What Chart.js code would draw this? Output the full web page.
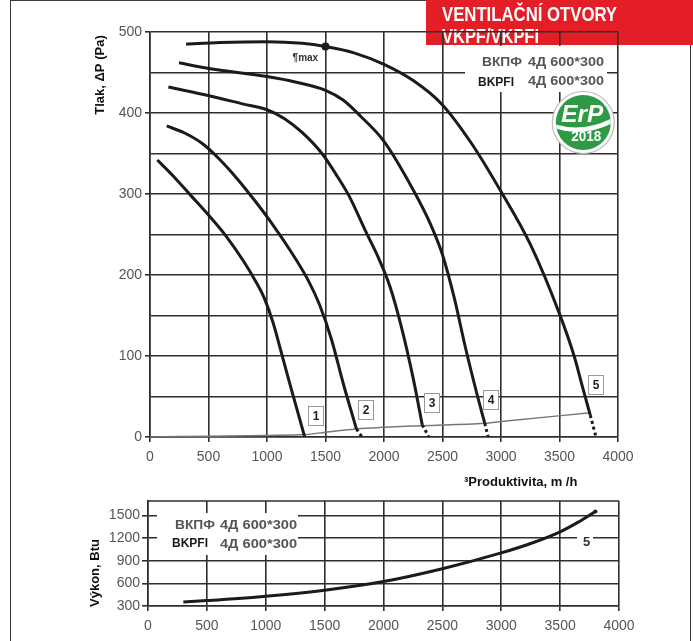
<!DOCTYPE html>
<html>
<head>
<meta charset="utf-8">
<script src="https://cdn.jsdelivr.net/npm/chart.js@4.4.1/dist/chart.umd.min.js"></script>
<style>
  html, body { margin: 0; padding: 0; background: #fff; }
  body { width: 693px; height: 641px; position: relative; overflow: hidden; }
  #frame { position: absolute; left: 10px; top: 0; width: 681px; height: 700px; border: 1px solid #3a3a3a; box-sizing: border-box; }
  canvas { position: absolute; left: 0; }
  #top { top: 0; }
  #bottom { top: 480px; }
</style>
</head>
<body>
<div id="frame"></div>
<canvas id="top" width="693" height="500"></canvas>
<canvas id="bottom" width="693" height="161"></canvas>
<script>
// flow m3/h vs pressure Pa
const curve1 = [[63,342],[200,322],[350,298],[500,274],[650,248],[800,217],[900,193],[975,172],[1050,142],[1125,103],[1200,63],[1270,27],[1322,0]];
const curve2 = [[143,384],[300,375],[450,362],[600,342],[750,318],[900,291],[1050,262],[1200,230],[1350,194],[1450,163],[1550,121],[1650,67],[1764,10]];
const curve2Tail = [[1764,10],[1813,0]];
const curve3 = [[157,432],[514,421],[800,411],[1000,404],[1150,393],[1300,376],[1470,350],[1600,322],[1700,298],[1850,252],[1950,222],[2050,186],[2150,135],[2250,72],[2327,15]];
const curve3Tail = [[2327,15],[2384,0]];
const curve4 = [[248,462],[500,455],[1000,445],[1250,438],[1500,428],[1650,416],[1800,396],[2000,365],[2250,305],[2400,262],[2500,225],[2600,172],[2700,108],[2800,50],[2861,17]];
const curve4Tail = [[2861,17],[2890,0]];
const curve5 = [[308,485],[600,487],[1000,488],[1300,486],[1500,482],[1750,474],[2000,460],[2250,440],[2500,410],[2750,362],[3000,303],[3250,238],[3500,152],[3625,100],[3700,60],[3763,27]];
const curve5Tail = [[3763,27],[3812,0]];
const systemLine = [[0,0],[500,1],[1000,2],[1330,3],[1500,6],[1764,10],[2000,12],[2330,14],[2860,17],[3000,19],[3763,30]];
const maxPoint = [[1500,482]];

// flow vs power
const powerCurve = [[300,353],[500,372],[1000,430],[1500,510],[2000,625],[2500,795],[3000,1005],[3250,1130],[3500,1285],[3650,1410],[3800,1555]];
const powerTicks = [300, 600, 900, 1200, 1500];

const FONT = '"Liberation Sans", Arial, sans-serif';
const GRID = '#2e2e2e';

const pts = a => a.map(([x, y]) => ({ x, y }));

function line(data, extra) {
  return Object.assign({
    data: pts(data), borderColor: '#1b1b1b', borderWidth: 3, pointRadius: 0,
    fill: false, cubicInterpolationMode: 'monotone'
  }, extra);
}

function fitText(c, text, x, y, w) {
  const m = c.measureText(text).width;
  c.save();
  c.translate(x, y);
  c.scale(w / m, 1);
  c.textAlign = 'left';
  c.fillText(text, 0, 0);
  c.restore();
}

function vTitle(c, text, x, y) {
  c.save();
  c.translate(x, y);
  c.rotate(-Math.PI / 2);
  c.font = 'bold 13px ' + FONT;
  c.fillStyle = '#111';
  c.textAlign = 'center';
  c.textBaseline = 'middle';
  c.fillText(text, 0, 0);
  c.restore();
}

function xScale(fitH) {
  return {
    type: 'linear', min: 0, max: 4000,
    ticks: {
      stepSize: 500, color: '#555', font: { size: 14, family: FONT }, padding: 7, maxRotation: 0, autoSkip: false,
      callback: v => String(v)
    },
    grid: { color: GRID, lineWidth: 1.6, tickLength: 5, tickColor: GRID },
    border: { color: GRID, width: 1.6 },
    afterFit: s => { s.height = fitH; }
  };
}

const topDeco = {
  id: 'topDeco',
  beforeDraw(chart) {
    const c = chart.ctx;
    c.save();
    c.fillStyle = '#e41e26';
    c.fillRect(426, 0, 267, 45);
    c.fillStyle = '#fff';
    c.font = 'bold 21px ' + FONT;
    fitText(c, 'VENTILAČNÍ OTVORY', 442, 20.5, 175);
    fitText(c, 'VKPF/VKPFI', 442, 43, 97);
    c.restore();
  },
  beforeDatasetsDraw(chart) {
    const c = chart.ctx;
    c.save();
    // model text box
    c.fillStyle = '#fff';
    c.fillRect(465, 46, 142, 46);
    c.font = 'bold 13px ' + FONT;
    c.fillStyle = '#555';
    fitText(c, 'ВКПФ', 482, 66, 40);
    fitText(c, '4Д 600*300', 528, 66, 76);
    fitText(c, '4Д 600*300', 528, 85, 76);
    c.fillStyle = '#1a1a1a';
    fitText(c, 'BKPFI', 478, 86, 36);

    // ErP badge
    const cx = 583.3, cy = 122.5;
    c.beginPath(); c.arc(cx, cy, 31, 0, Math.PI * 2);
    c.fillStyle = '#fff'; c.fill();
    c.strokeStyle = '#bbb'; c.lineWidth = 1.2; c.stroke();
    c.beginPath(); c.arc(cx, cy, 27.5, 0, Math.PI * 2);
    c.fillStyle = '#2f9a45'; c.fill();
    c.save();
    c.beginPath(); c.arc(cx, cy, 27.5, 0, Math.PI * 2); c.clip();
    c.beginPath();
    c.moveTo(cx - 28, cy + 2);
    c.quadraticCurveTo(cx, cy + 10, cx + 28, cy - 4);
    c.lineTo(cx + 28, cy + 1);
    c.quadraticCurveTo(cx, cy + 15, cx - 28, cy + 6);
    c.closePath();
    c.fillStyle = '#fff'; c.fill();
    c.restore();
    c.fillStyle = '#fff';
    c.font = 'italic bold 24px ' + FONT;
    fitText(c, 'ErP', cx - 22, cy - 1, 42);
    c.font = 'bold 15px ' + FONT;
    fitText(c, '2018', cx - 12, cy + 18.5, 30);
    c.restore();
  },
  afterDatasetsDraw(chart) {
    const c = chart.ctx, x = chart.scales.x, y = chart.scales.y;
    c.save();
    const tags = [['1', 1422, 26], ['2', 1846, 33], ['3', 2412, 42], ['4', 2915, 46], ['5', 3811, 64]];
    tags.forEach(([t, vx, vy]) => {
      const px = Math.round(x.getPixelForValue(vx)), py = Math.round(y.getPixelForValue(vy));
      c.fillStyle = '#fff';
      c.fillRect(px - 8, py - 10, 16, 20);
      c.strokeStyle = '#9a9a9a'; c.lineWidth = 1;
      c.strokeRect(px - 7.5, py - 9.5, 15, 19);
      c.fillStyle = '#222';
      c.font = 'bold 12px ' + FONT;
      c.textAlign = 'center'; c.textBaseline = 'middle';
      c.fillText(t, px, py + 1);
    });
    c.font = 'bold 10px ' + FONT;
    c.fillStyle = '#333';
    c.textAlign = 'center'; c.textBaseline = 'middle';
    c.fillText('¶max', x.getPixelForValue(1328), y.getPixelForValue(468));
    c.restore();
  },
  afterDraw(chart) {
    const c = chart.ctx;
    vTitle(c, 'Tlak, ΔP (Pa)', 100, 75);
    c.save();
    c.font = 'bold 13px ' + FONT;
    c.fillStyle = '#111';
    c.textAlign = 'left'; c.textBaseline = 'middle';
    c.fillText('³Produktivita, m /h', 464, 482);
    c.restore();
  }
};

const bottomDeco = {
  id: 'bottomDeco',
  beforeDatasetsDraw(chart) {
    const c = chart.ctx;
    c.save();
    c.fillStyle = '#fff';
    c.fillRect(157, 33, 141, 42);
    c.fillRect(577, 50, 16, 16);
    c.font = 'bold 12px ' + FONT;
    c.fillStyle = '#555';
    fitText(c, 'ВКПФ', 175, 49, 40);
    fitText(c, '4Д 600*300', 220, 49, 77);
    fitText(c, '4Д 600*300', 220, 68, 77);
    c.fillStyle = '#1a1a1a';
    fitText(c, 'BKPFI', 172, 67.3, 36);
    c.fillStyle = '#333';
    c.font = 'bold 13px ' + FONT;
    c.textAlign = 'center'; c.textBaseline = 'middle';
    c.fillText('5', 586.5, 62);
    // top edge of plot box
    const a = chart.chartArea;
    c.strokeStyle = GRID; c.lineWidth = 1.6;
    c.beginPath(); c.moveTo(a.left, a.top); c.lineTo(a.right, a.top); c.stroke();
    c.restore();
  },
  afterDraw(chart) {
    vTitle(chart.ctx, 'Výkon, Btu', 95, 93);
  }
};

new Chart(document.getElementById('top'), {
  type: 'line',
  data: {
    datasets: [
      line(maxPoint, { pointRadius: 4, pointBackgroundColor: '#1b1b1b', pointBorderWidth: 0, showLine: false }),
      line(curve1),
      line(curve2),
      line(curve2Tail, { borderDash: [3, 3], cubicInterpolationMode: 'default', tension: 0 }),
      line(curve3),
      line(curve3Tail, { borderDash: [3, 3], cubicInterpolationMode: 'default', tension: 0 }),
      line(curve4),
      line(curve4Tail, { borderDash: [3, 3], cubicInterpolationMode: 'default', tension: 0 }),
      line(curve5),
      line(curve5Tail, { borderDash: [3, 3], cubicInterpolationMode: 'default', tension: 0 }),
      line(systemLine, { borderColor: '#777', borderWidth: 1.5 })
    ]
  },
  options: {
    responsive: false,
    animation: false,
    devicePixelRatio: 1,
    layout: { padding: { left: 0, right: 75, top: 32, bottom: 0 } },
    plugins: { legend: { display: false }, tooltip: { enabled: false } },
    scales: {
      x: xScale(63),
      y: {
        type: 'linear', min: 0, max: 500,
        ticks: {
          stepSize: 50, color: '#555', font: { size: 14, family: FONT }, padding: 3, autoSkip: false,
          callback: v => (v % 100 === 0 ? String(v) : '')
        },
        grid: {
          color: GRID, lineWidth: 1.6, tickLength: 5,
          tickColor: ctx => (ctx.tick && ctx.tick.value % 100 !== 0 ? 'rgba(0,0,0,0)' : GRID)
        },
        border: { color: GRID, width: 1.6 },
        afterFit: s => { s.width = 150; }
      }
    }
  },
  plugins: [topDeco]
});

new Chart(document.getElementById('bottom'), {
  type: 'line',
  data: {
    datasets: [
      line(powerCurve, { pointRadius: ctx => (ctx.dataIndex === powerCurve.length - 1 ? 2 : 0), pointBackgroundColor: '#1b1b1b', pointBorderWidth: 0 })
    ]
  },
  options: {
    responsive: false,
    animation: false,
    devicePixelRatio: 1,
    layout: { padding: { left: 0, right: 74, top: 21, bottom: 0 } },
    plugins: { legend: { display: false }, tooltip: { enabled: false } },
    scales: {
      x: xScale(35),
      y: {
        type: 'linear', min: 300, max: 1694,
        afterBuildTicks: s => { s.ticks = powerTicks.map(v => ({ value: v })); },
        ticks: { color: '#555', font: { size: 14, family: FONT }, padding: 2, autoSkip: false, callback: v => String(v) },
        grid: { color: GRID, lineWidth: 1.6, tickLength: 6, tickColor: GRID },
        border: { color: GRID, width: 1.6 },
        afterFit: s => { s.width = 148; }
      }
    }
  },
  plugins: [bottomDeco]
});
</script>
</body>
</html>
